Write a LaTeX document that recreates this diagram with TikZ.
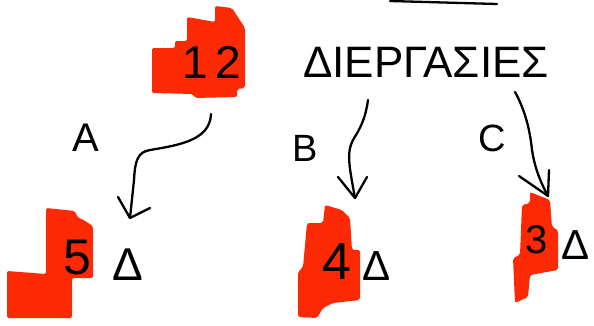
\documentclass[tikz,border=0pt]{standalone}
\usepackage{fontspec}
\setmainfont{Liberation Sans}
\definecolor{blobred}{RGB}{252,42,4}
\tikzset{
  ink/.style={line width=2.3pt, line cap=round, line join=round, draw=black},
  blob/.style={fill=blobred, draw=none, rounded corners=2pt},
  txt/.style={inner sep=0pt, text=black},
}
\newcommand{\fsz}[1]{\fontsize{#1}{#1}\selectfont}
\begin{document}
\begin{tikzpicture}[x=1pt,y=-1pt]
\useasboundingbox (0,0) rectangle (594,325);
% red blobs
\fill[blob] (152,48)--(175,48)--(175,41)--(187,41)--(187,17)--(215,22)--(215,6)--(232,8)--(245,28)--(245,88)--(237,89)--(237,97)--(195,98)--(193,94)--(152,93)--cycle;
\fill[blob] (46,208)--(75,211)--(78,218)--(82,219)--(93,226)--(93,278)--(72,278)--(72,318)--(7,318)--(7,271)--(46,274)--cycle;
\fill[blob] (325,205)--(342,210)--(350,218)--(352,250)--(360,250)--(360,300)--(333,303)--(323,308)--(317,318)--(298,317)--(298,272)--(303,267)--(307,223)--(323,223)--cycle;
\fill[blob] (530,192)--(550,200)--(552,227)--(558,230)--(558,270)--(530,275)--(528,297)--(515,303)--(513,258)--(520,255)--(522,205)--(530,203)--cycle;
% top line
\draw[ink] (390,1) -- (497,4);
% texts
\node[txt, font=\fsz{46}] (twelve) at (212,62) {1\kern8pt 2};
\node[txt, font=\fsz{44}] (word) at (426,62) {ΔΙΕΡΓΑΣΙΕΣ};
\node[txt, font=\fsz{40}] (la) at (86,138) {A};
\node[txt, font=\fsz{38}] (lb) at (305,148) {B};
\node[txt, font=\fsz{38}] (lc) at (492,138) {C};
\node[txt, font=\fsz{50}] (five) at (77,258) {5};
\node[txt, font=\fsz{46}] (fiveD) at (128,265) {Δ};
\node[txt, font=\fsz{52}] (four) at (337,262) {4};
\node[txt, font=\fsz{42}] (fourD) at (377,266) {Δ};
\node[txt, font=\fsz{40}] (three) at (537,240) {3};
\node[txt, font=\fsz{42}] (threeD) at (576,245) {Δ};
% connector coordinates
\coordinate (aS) at (211,114); \coordinate (aT) at (130,218);
\coordinate (bS) at (368,100); \coordinate (bT) at (355,198);
\coordinate (cS) at (515,92);  \coordinate (cT) at (548,196);
% connectors
\draw[ink] (aS) .. controls (210,140) and (180,145) .. (150,150) .. controls (138,152) and (135,160) .. (134,180) -- (aT);
\draw[ink] (118,197) -- (aT) -- (150,208);
\draw[ink] (bS) .. controls (366,115) and (362,125) .. (356,135) .. controls (346,150) and (348,160) .. (bT);
\draw[ink] (338,177) -- (bT) -- (367,177);
\draw[ink] (cS) .. controls (525,110) and (530,130) .. (532,150) .. controls (535,170) and (542,185) .. (cT);
\draw[ink] (519,176) -- (cT) -- (549,170);
\end{tikzpicture}
\end{document}
